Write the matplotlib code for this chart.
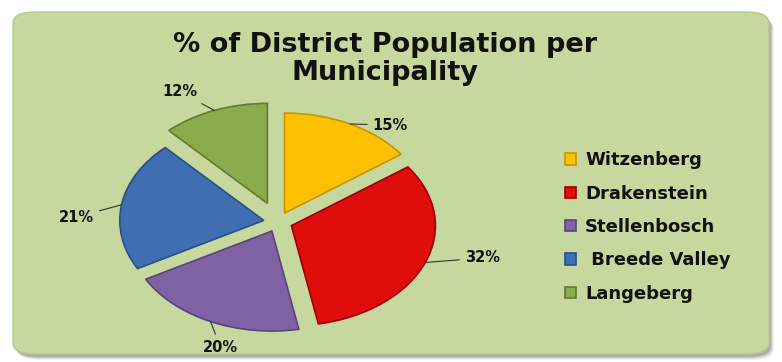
import matplotlib.pyplot as plt
from matplotlib.patches import FancyBboxPatch
import numpy as np

municipalities = ["Witzenberg", "Drakenstein", "Stellenbosch", " Breede Valley", "Langeberg"]
shares = [15, 32, 20, 21, 12]
colors = ["#FFC000", "#E00D0D", "#7E62A3", "#3F6EB3", "#8AAA4C"]
edges = ["#C89400", "#A00000", "#5A437E", "#2A4F86", "#627C30"]
explode = [0.1, 0.1, 0.1, 0.1, 0.2]
# where each percentage label sits (data units of the pie axes)
label_pos = [(0.78, 0.97), (1.42, -0.36), (-0.40, -1.25), (-1.40, 0.05), (-0.68, 1.30)]

W, H = 782, 362
fig = plt.figure(figsize=(W / 100, H / 100), dpi=100)
fig.patch.set_facecolor("white")

# panel with a soft drop shadow
for i, a in enumerate([0.06, 0.08, 0.10, 0.12]):
    d = 4 - i
    fig.patches.append(FancyBboxPatch(
        ((14 + d) / W, (H - 356 - d) / H), (756) / W, (342) / H,
        boxstyle="round,pad=0,rounding_size=0.03", transform=fig.transFigure,
        facecolor="black", edgecolor="none", alpha=a, zorder=0))
fig.patches.append(FancyBboxPatch(
    (13 / W, (H - 354) / H), 756 / W, 342 / H,
    boxstyle="round,pad=0,rounding_size=0.03", transform=fig.transFigure,
    facecolor="#C6D89E", edgecolor="#B5C98C", linewidth=1, zorder=1))

fig.text(385 / W, 1 - 59 / H, "% of District Population per\nMunicipality",
         ha="center", va="center", fontsize=19.5, fontweight="bold",
         family="DejaVu Sans", color="#111111", linespacing=1.05)

# pie axes: 144 px per unit across, 100 px per unit down (tilted look)
cx, cy = 278, 222
hw, hh = 180, 135
ax = fig.add_axes([(cx - hw) / W, (H - cy - hh) / H, 2 * hw / W, 2 * hh / H])
ax.set_zorder(2)
wedges, _ = ax.pie(shares, colors=colors, explode=explode, startangle=90,
                   counterclock=False, radius=1.0,
                   wedgeprops=dict(linewidth=1.2))
for w, ec in zip(wedges, edges):
    w.set_edgecolor(ec)
ax.set_aspect("auto")
ax.set_xlim(-hw / 144, hw / 144)
ax.set_ylim(-hh / 100, hh / 100)
ax.axis("off")

for w, v, ex, pos in zip(wedges, shares, explode, label_pos):
    mid = np.deg2rad((w.theta1 + w.theta2) / 2)
    x0 = w.center[0] + np.cos(mid)
    y0 = w.center[1] + np.sin(mid)
    ax.annotate(f"{v}%", xy=(x0, y0), xytext=pos, ha="center", va="center",
                fontsize=10.5, fontweight="bold", family="DejaVu Sans", color="#111111",
                arrowprops=dict(arrowstyle="-", color="#333333", lw=0.8,
                                shrinkA=2, shrinkB=0))

leg = fig.legend(wedges, municipalities, loc="center left",
                 bbox_to_anchor=(549 / W, 1 - 227 / H), frameon=False,
                 handlelength=0.6, handleheight=0.6, handletextpad=0.5,
                 labelspacing=0.85,
                 prop=dict(family="DejaVu Sans", weight="bold", size=13))
for t in leg.get_texts():
    t.set_color("#111111")

fig.savefig("out.png", dpi=100)
